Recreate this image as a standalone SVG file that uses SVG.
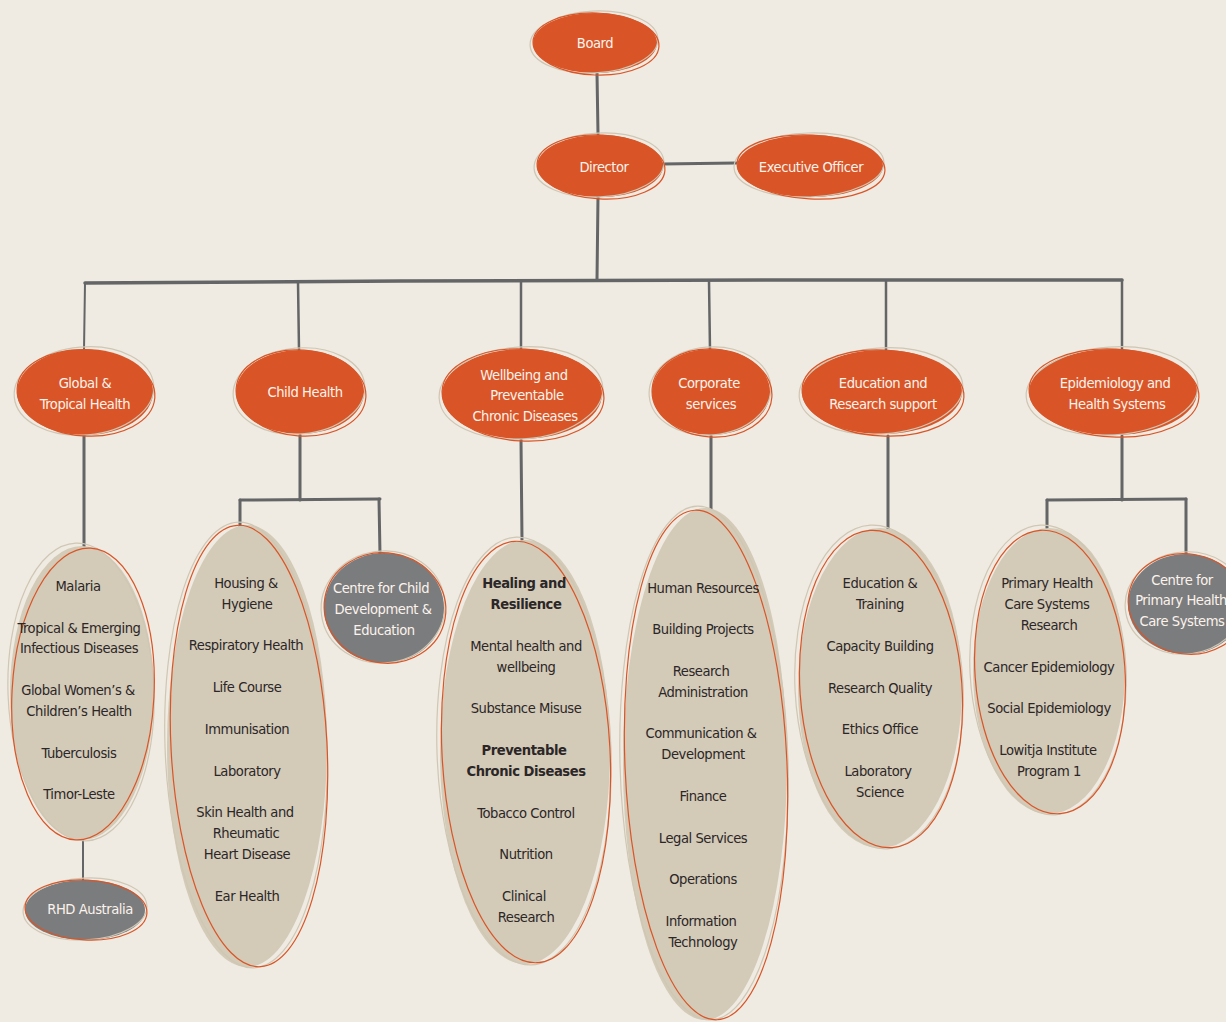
<svg xmlns="http://www.w3.org/2000/svg" width="1226" height="1022" viewBox="0 0 1226 1022">
<style>
  .bg{fill:#efebe2}
  .or{fill:#d95527}
  .be{fill:#d3cab7}
  .gr{fill:#7b7c7e}
  .so{fill:none;stroke:#d95527;stroke-width:1.2}
  .sb{fill:none;stroke:#cfc6b3;stroke-width:1.2}
  .ln{fill:none;stroke:#646567;stroke-width:3;stroke-linecap:round}
  text{font-family:"Liberation Sans Narrow","DejaVu Sans Condensed","Liberation Sans",sans-serif;font-size:14.6px;letter-spacing:-0.45px;text-anchor:middle}
  .w{fill:#fbf3ec}
  .d{fill:#2b2627}
  .b{font-weight:bold}
</style>
<rect class="bg" x="0" y="0" width="1226" height="1022"/>

<g id="connectors">
  <path class="ln" d="M597 73 L598 134"/>
  <path class="ln" d="M662 164 L736 163"/>
  <path class="ln" d="M598 196 L597 280"/>
  <path class="ln" d="M85 283 L400 281 L800 280 L1122 280" style="stroke-width:3.5"/>
  <path class="ln" d="M85 283 L84 350" style="stroke-width:2"/>
  <path class="ln" d="M298 282 L299 350" style="stroke-width:2.5"/>
  <path class="ln" d="M521 281 L521 350" style="stroke-width:2.5"/>
  <path class="ln" d="M709 281 L710 350" style="stroke-width:2.5"/>
  <path class="ln" d="M886 281 L886 350" style="stroke-width:2.5"/>
  <path class="ln" d="M1122 280 L1122 350" style="stroke-width:2.5"/>
  <path class="ln" d="M84 435 L84 548"/>
  <path class="ln" d="M83 840 L83 880" style="stroke-width:2"/>
  <path class="ln" d="M300 435 L300 500"/>
  <path class="ln" d="M240 500 L380 499"/>
  <path class="ln" d="M240 500 L240 526"/>
  <path class="ln" d="M379 499 L380 554"/>
  <path class="ln" d="M521 440 L522 540"/>
  <path class="ln" d="M711 436 L711 510"/>
  <path class="ln" d="M888 436 L888 530"/>
  <path class="ln" d="M1122 436 L1122 500"/>
  <path class="ln" d="M1047 500 L1186 499"/>
  <path class="ln" d="M1047 500 L1047 528"/>
  <path class="ln" d="M1186 499 L1186 555"/>
</g>

<g id="board">
  <ellipse class="or" cx="595" cy="43" rx="62" ry="30"/>
  <ellipse class="sb" cx="594" cy="42" rx="64" ry="31" transform="rotate(-3 594 42)"/>
  <ellipse class="so" cx="596" cy="44" rx="63" ry="31" transform="rotate(2 596 44)"/>
  <text class="w" x="595" y="48">Board</text>
</g>
<g id="director">
  <ellipse class="or" cx="600" cy="166" rx="63" ry="31"/>
  <ellipse class="sb" cx="599" cy="165" rx="65" ry="32" transform="rotate(-3 599 165)"/>
  <ellipse class="so" cx="601" cy="167" rx="64" ry="32" transform="rotate(3 601 167)"/>
  <text class="w" x="604" y="172">Director</text>
</g>
<g id="executive-officer">
  <ellipse class="or" cx="810" cy="166" rx="73" ry="31"/>
  <ellipse class="sb" cx="809" cy="165" rx="75" ry="32" transform="rotate(-2 809 165)"/>
  <ellipse class="so" cx="811" cy="167" rx="74" ry="32" transform="rotate(3 811 167)"/>
  <text class="w" x="811" y="172">Executive Officer</text>
</g>

<g id="global-tropical-health">
  <ellipse class="or" cx="85" cy="392" rx="68" ry="43"/>
  <ellipse class="sb" cx="84" cy="391" rx="70" ry="44" transform="rotate(-5 84 391)"/>
  <ellipse class="so" cx="86" cy="393" rx="69" ry="43" transform="rotate(4 86 393)"/>
  <text class="w" x="85" y="388">Global &amp;</text>
  <text class="w" x="85" y="409">Tropical Health</text>
</g>
<g id="child-health">
  <ellipse class="or" cx="300" cy="392" rx="64" ry="42"/>
  <ellipse class="sb" cx="299" cy="391" rx="66" ry="43" transform="rotate(-5 299 391)"/>
  <ellipse class="so" cx="301" cy="393" rx="65" ry="43" transform="rotate(4 301 393)"/>
  <text class="w" x="305" y="397">Child Health</text>
</g>
<g id="wellbeing">
  <ellipse class="or" cx="522" cy="394" rx="80" ry="45"/>
  <ellipse class="sb" cx="521" cy="393" rx="82" ry="46" transform="rotate(-4 521 393)"/>
  <ellipse class="so" cx="523" cy="395" rx="81" ry="46" transform="rotate(3 523 395)"/>
  <text class="w" x="524" y="380">Wellbeing and</text>
  <text class="w" x="527" y="400">Preventable</text>
  <text class="w" x="525" y="421">Chronic Diseases</text>
</g>
<g id="corporate-services">
  <ellipse class="or" cx="711" cy="392" rx="59" ry="43"/>
  <ellipse class="sb" cx="710" cy="391" rx="61" ry="44" transform="rotate(-5 710 391)"/>
  <ellipse class="so" cx="712" cy="393" rx="60" ry="44" transform="rotate(4 712 393)"/>
  <text class="w" x="709" y="388">Corporate</text>
  <text class="w" x="711" y="409">services</text>
</g>
<g id="education-research">
  <ellipse class="or" cx="882" cy="392" rx="80" ry="42"/>
  <ellipse class="sb" cx="881" cy="391" rx="82" ry="43" transform="rotate(-4 881 391)"/>
  <ellipse class="so" cx="883" cy="393" rx="81" ry="43" transform="rotate(3 883 393)"/>
  <text class="w" x="883" y="388">Education and</text>
  <text class="w" x="883" y="409">Research support</text>
</g>
<g id="epidemiology">
  <ellipse class="or" cx="1113" cy="392" rx="84" ry="43"/>
  <ellipse class="sb" cx="1112" cy="391" rx="86" ry="44" transform="rotate(-4 1112 391)"/>
  <ellipse class="so" cx="1114" cy="393" rx="85" ry="44" transform="rotate(3 1114 393)"/>
  <text class="w" x="1115" y="388">Epidemiology and</text>
  <text class="w" x="1117" y="409">Health Systems</text>
</g>

<g id="global-list">
  <ellipse class="be" cx="82" cy="693" rx="72" ry="147"/>
  <ellipse class="sb" cx="81" cy="692" rx="73" ry="149" transform="rotate(-2 81 692)"/>
  <ellipse class="so" cx="83" cy="694" rx="71" ry="146" transform="rotate(3 83 694)"/>
  <text class="d" x="78" y="591">Malaria</text>
  <text class="d" x="79" y="633">Tropical &amp; Emerging</text>
  <text class="d" x="79" y="653">Infectious Diseases</text>
  <text class="d" x="78" y="695">Global Women’s &amp;</text>
  <text class="d" x="79" y="716">Children’s Health</text>
  <text class="d" x="79" y="758">Tuberculosis</text>
  <text class="d" x="79" y="799">Timor-Leste</text>
</g>
<g id="rhd-australia">
  <ellipse class="gr" cx="85" cy="910" rx="60" ry="30"/>
  <ellipse class="sb" cx="85" cy="909" rx="62" ry="31" transform="rotate(-3 85 909)"/>
  <ellipse class="so" cx="86" cy="910" rx="61" ry="30" transform="rotate(3 86 910)"/>
  <text class="w" x="90" y="914">RHD Australia</text>
</g>
<g id="child-list">
  <ellipse class="be" cx="247" cy="746" rx="80" ry="221"/>
  <ellipse class="sb" cx="246" cy="745" rx="81" ry="223" transform="rotate(-2 246 745)"/>
  <ellipse class="so" cx="249" cy="746" rx="78" ry="221" transform="rotate(-3 249 746)"/>
  <text class="d" x="246" y="588">Housing &amp;</text>
  <text class="d" x="247" y="609">Hygiene</text>
  <text class="d" x="246" y="650">Respiratory Health</text>
  <text class="d" x="247" y="692">Life Course</text>
  <text class="d" x="247" y="734">Immunisation</text>
  <text class="d" x="247" y="776">Laboratory</text>
  <text class="d" x="245" y="817">Skin Health and</text>
  <text class="d" x="246" y="838">Rheumatic</text>
  <text class="d" x="247" y="859">Heart Disease</text>
  <text class="d" x="247" y="901">Ear Health</text>
</g>
<g id="centre-child-development">
  <ellipse class="gr" cx="384" cy="608" rx="60" ry="55"/>
  <ellipse class="sb" cx="383" cy="607" rx="62" ry="56" transform="rotate(-8 383 607)"/>
  <ellipse class="so" cx="385" cy="608" rx="61" ry="55" transform="rotate(10 385 608)"/>
  <text class="w" x="381" y="593">Centre for Child</text>
  <text class="w" x="383" y="614">Development &amp;</text>
  <text class="w" x="384" y="635">Education</text>
</g>
<g id="wellbeing-list">
  <ellipse class="be" cx="525" cy="752" rx="85" ry="212"/>
  <ellipse class="sb" cx="524" cy="751" rx="87" ry="214" transform="rotate(-2 524 751)"/>
  <ellipse class="so" cx="526" cy="752" rx="84" ry="211" transform="rotate(-3 526 752)"/>
  <text class="d b" x="524" y="588">Healing and</text>
  <text class="d b" x="526" y="609">Resilience</text>
  <text class="d" x="526" y="651">Mental health and</text>
  <text class="d" x="526" y="672">wellbeing</text>
  <text class="d" x="526" y="713">Substance Misuse</text>
  <text class="d b" x="524" y="755">Preventable</text>
  <text class="d b" x="526" y="776">Chronic Diseases</text>
  <text class="d" x="526" y="818">Tobacco Control</text>
  <text class="d" x="526" y="859">Nutrition</text>
  <text class="d" x="524" y="901">Clinical</text>
  <text class="d" x="526" y="922">Research</text>
</g>
<g id="corporate-list">
  <ellipse class="be" cx="705" cy="764" rx="82" ry="256"/>
  <ellipse class="sb" cx="704" cy="763" rx="84" ry="257" transform="rotate(-1.5 704 763)"/>
  <ellipse class="so" cx="706" cy="765" rx="81" ry="255" transform="rotate(-2.5 706 765)"/>
  <text class="d" x="703" y="593">Human Resources</text>
  <text class="d" x="703" y="634">Building Projects</text>
  <text class="d" x="701" y="676">Research</text>
  <text class="d" x="703" y="697">Administration</text>
  <text class="d" x="701" y="738">Communication &amp;</text>
  <text class="d" x="703" y="759">Development</text>
  <text class="d" x="703" y="801">Finance</text>
  <text class="d" x="703" y="843">Legal Services</text>
  <text class="d" x="703" y="884">Operations</text>
  <text class="d" x="701" y="926">Information</text>
  <text class="d" x="703" y="947">Technology</text>
</g>
<g id="education-list">
  <ellipse class="be" cx="880" cy="688" rx="82" ry="160"/>
  <ellipse class="sb" cx="879" cy="687" rx="84" ry="162" transform="rotate(-3 879 687)"/>
  <ellipse class="so" cx="881" cy="689" rx="81" ry="159" transform="rotate(-4 881 689)"/>
  <text class="d" x="880" y="588">Education &amp;</text>
  <text class="d" x="880" y="609">Training</text>
  <text class="d" x="880" y="651">Capacity Building</text>
  <text class="d" x="880" y="693">Research Quality</text>
  <text class="d" x="880" y="734">Ethics Office</text>
  <text class="d" x="878" y="776">Laboratory</text>
  <text class="d" x="880" y="797">Science</text>
</g>
<g id="epidemiology-list">
  <ellipse class="be" cx="1049" cy="671" rx="76" ry="143"/>
  <ellipse class="sb" cx="1048" cy="670" rx="78" ry="145" transform="rotate(-3 1048 670)"/>
  <ellipse class="so" cx="1050" cy="672" rx="75" ry="142" transform="rotate(-4 1050 672)"/>
  <text class="d" x="1047" y="588">Primary Health</text>
  <text class="d" x="1047" y="609">Care Systems</text>
  <text class="d" x="1049" y="630">Research</text>
  <text class="d" x="1049" y="672">Cancer Epidemiology</text>
  <text class="d" x="1049" y="713">Social Epidemiology</text>
  <text class="d" x="1048" y="755">Lowitja Institute</text>
  <text class="d" x="1049" y="776">Program 1</text>
</g>
<g id="centre-primary-health-care">
  <ellipse class="gr" cx="1186" cy="604" rx="58" ry="50"/>
  <ellipse class="sb" cx="1185" cy="603" rx="60" ry="51" transform="rotate(-8 1185 603)"/>
  <ellipse class="so" cx="1187" cy="604" rx="59" ry="50" transform="rotate(10 1187 604)"/>
  <text class="w" x="1182" y="585">Centre for</text>
  <text class="w" x="1181" y="605">Primary Health</text>
  <text class="w" x="1182" y="626">Care Systems</text>
</g>
</svg>
